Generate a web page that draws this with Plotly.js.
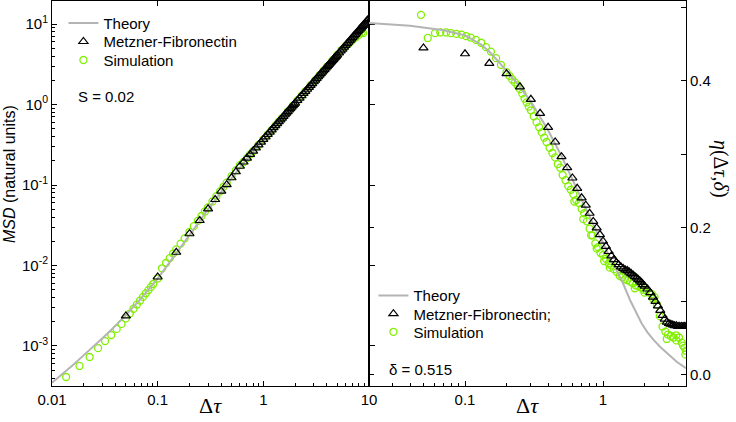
<!DOCTYPE html>
<html>
<head>
<meta charset="utf-8">
<script src="https://cdn.plot.ly/plotly-3.0.1.min.js"></script>
<style>html,body{margin:0;padding:0;background:#fff;}#chart{width:736px;height:422px;}</style>
</head>
<body>
<div id="chart"></div>
<script>
// ---------- Data ----------
// Metzner-Fibronectin time lags
const dtMF = [0.05,0.1,0.15,0.2,0.25,0.3,0.35,0.4,0.45,0.5,0.55,0.6,0.65,0.7,0.75,0.8,0.85,0.9,0.95,1.0,
  1.05,1.1,1.15,1.2,1.25,1.3,1.35,1.4,1.45,1.5,1.55,1.6,1.65,1.7,1.75,1.8,1.85,1.9,1.95,2.0,
  2.1,2.2,2.3,2.4,2.5,2.6,2.7,2.8,2.9,3.0,3.1,3.2,3.3,3.4,3.5,3.6,3.7,3.8,3.9,4.0,4.1,4.2,
  4.3,4.4,4.5,4.6,4.7,4.8,4.9,5.0,5.2,5.4,5.6,5.8,6.0,6.2,6.4,6.6,6.8,7.0,7.2,7.4,7.6,7.8,8.0,
  8.2,8.4,8.6,8.8,9.0,9.2,9.4,9.6,9.8,10.0];
const msdMF = [0.00236,0.0072,0.0146,0.0248,0.0362,0.0506,0.066,0.0838,0.101,0.123,0.146,0.171,0.193,0.216,0.240,0.264,0.289,0.315,0.341,0.369,
  0.397,0.425,0.455,0.485,0.515,0.547,0.578,0.611,0.644,0.677,0.712,0.746,0.782,0.817,0.854,0.890,0.928,0.966,1.004,1.043,
  1.122,1.203,1.286,1.371,1.457,1.546,1.636,1.727,1.821,1.916,2.012,2.111,2.210,2.311,2.414,2.518,2.624,2.731,2.840,2.950,3.061,3.174,
  3.288,3.403,3.520,3.638,3.757,3.877,3.999,4.122,4.372,4.627,4.886,5.150,5.419,5.692,5.970,6.251,6.538,6.828,7.123,7.422,7.725,8.031,8.343,
  8.658,8.976,9.299,9.625,9.955,10.29,10.63,10.97,11.31,11.66];
const etaMF = [0.445,0.437,0.424,0.410,0.392,0.375,0.356,0.337,0.317,0.297,0.282,0.268,0.254,0.241,0.231,0.220,0.209,0.200,0.191,0.182,
  0.175,0.168,0.162,0.157,0.153,0.150,0.147,0.145,0.143,0.142,0.140,0.138,0.136,0.134,0.132,0.130,0.128,0.126,0.123,0.121,
  0.117,0.112,0.106,0.100,0.094,0.088,0.081,0.076,0.072,0.070,0.069,0.068,0.067,0.067,0.066,0.066,0.066,0.066,0.066,0.066,0.066,0.066];

// Simulation, MSD panel
const dtSimL = [0.0136,0.0182,0.0227,0.0273,0.0318,0.0364,0.0409,0.0455,0.05,0.0545,0.0591,0.0636,0.0682,0.0727,0.0773,0.0818,0.0864,0.0909,
  0.1,0.11,0.12,0.13,0.14,0.15,0.165,0.18,0.2,0.22,0.24,0.26,0.28,0.3,0.33,0.36,0.39,0.42,0.45,0.5,0.55,0.6,
  0.65,0.7,0.75,0.8,0.9,1.0,1.1,1.2,1.3,1.4,1.5,1.7,1.9,2.1,2.3,2.5,2.8,3.1,3.4,3.7,4.0,4.5,5.0,5.5,6.0,6.5,7.0,7.5,8.0,8.5,8.8];
const msdSim = [0.000412,0.000565,0.00073,0.00094,0.00115,0.00137,0.00163,0.00188,0.0022,0.00253,0.0029,0.00327,0.00367,0.00408,0.00451,0.00495,0.00542,0.00589,
  0.00689,0.00923,0.01074,0.01234,0.01403,0.01583,0.01867,0.02174,0.02611,0.03082,0.03586,0.04122,0.0469,0.05284,0.06242,0.0726,0.08346,0.09497,0.107,0.1286,0.1518,0.1766,
  0.1932,0.2159,0.2395,0.2638,0.3148,0.3687,0.4254,0.4847,0.5465,0.6108,0.6773,0.8172,0.9656,1.122,1.286,1.457,1.727,2.012,2.311,2.624,2.95,3.52,4.122,4.756,5.256,5.805,6.35,6.816,7.342,7.766,7.70];

// Simulation, eta panel
const dtSimR = [0.048,0.0537,0.0606,0.0662,0.073,0.079,0.0867,0.0945,0.102,0.11,0.12,0.131,0.142,0.154,0.168,0.182,
  0.2,0.21,0.22,0.23,0.24,0.25,0.26,0.27,0.28,0.29,0.3,0.315,0.33,0.345,0.36,0.375,0.39,0.41,0.43,0.45,0.47,0.49,0.51,0.535,0.56,0.585,
  0.61,0.64,0.67,0.7,0.73,0.765,0.8,0.84,0.88,0.92,0.96,1.0,1.05,1.1,1.15,1.2,1.26,1.32,1.38,1.44,1.5,1.57,1.64,1.72,1.8,1.88,1.97,
  2.06,2.16,2.26,2.36,2.47,2.58,2.7,2.83,2.96,3.1,3.24,3.39,3.55,3.72,3.9,4.0,
  0.62,0.72,0.82,0.9,1.02,1.12,1.7,2.0,2.3,2.9,3.4,3.8,3.95];
const etaSim = [0.490,0.4585,0.465,0.466,0.466,0.465,0.464,0.463,0.461,0.459,0.456,0.452,0.446,0.440,0.431,0.422,
  0.412,0.407,0.402,0.398,0.394,0.389,0.383,0.376,0.371,0.365,0.360,0.352,0.344,0.337,0.330,0.323,0.317,0.309,0.302,0.296,0.287,0.282,0.272,0.265,0.257,0.252,
  0.246,0.238,0.234,0.226,0.220,0.209,0.199,0.190,0.179,0.174,0.166,0.163,0.158,0.152,0.149,0.144,0.140,0.135,0.133,0.130,0.129,0.127,0.125,0.122,0.121,0.119,0.116,
  0.115,0.112,0.110,0.106,0.095,0.080,0.066,0.059,0.055,0.053,0.051,0.054,0.051,0.044,0.037,0.033,
  0.236,0.212,0.190,0.172,0.155,0.146,0.118,0.112,0.104,0.049,0.047,0.040,0.028];

// Theory curves
const dtThL = [0.01,0.013,0.016,0.02,0.025,0.03,0.04,0.05,0.07,0.1,0.15,0.2,0.3,0.5,0.7,1,1.5,2,3,5,7,10];
const msdTh = [0.00035,0.000466,0.00059,0.00077,0.001,0.00125,0.00179,0.00242,0.00394,0.00686,0.0142,0.0242,0.05,0.121,0.212,0.362,0.665,1.025,1.89,4.08,6.8,11.8];
const dtThR = [0.02,0.04,0.07,0.1,0.13,0.15,0.2,0.25,0.3,0.4,0.5,0.6,0.7,0.8,0.9,1.0,1.124,1.25,1.366,1.569,1.75,1.907,2.1,2.316,2.6,2.9,3.42,3.99];
const etaTh = [0.479,0.475,0.469,0.462,0.450,0.440,0.414,0.392,0.372,0.333,0.298,0.266,0.238,0.215,0.195,0.180,0.159,0.143,0.129,0.102,0.084,0.070,0.058,0.048,0.038,0.030,0.018,0.0091];

// Tick labels
const xMajor = [0.01,0.1,1,10];
const xMajorText = ['0.01','0.1','1','10'];
const xMinor = [0.02,0.03,0.04,0.05,0.06,0.07,0.08,0.09,0.2,0.3,0.4,0.5,0.6,0.7,0.8,0.9,2,3,4,5,6,7,8,9];
const yMajorL = [0.001,0.01,0.1,1,10];
const yMajorLText = ['10<sup>-3</sup>','10<sup>-2</sup>','10<sup>-1</sup>','10<sup>0</sup>','10<sup>1</sup>'];
const yMinorL = [0.0004,0.0005,0.0006,0.0007,0.0008,0.0009,0.002,0.003,0.004,0.005,0.006,0.007,0.008,0.009,
  0.02,0.03,0.04,0.05,0.06,0.07,0.08,0.09,0.2,0.3,0.4,0.5,0.6,0.7,0.8,0.9,2,3,4,5,6,7,8,9];
const yMajorR = [0,0.2,0.4];
const yMajorRText = ['0.0','0.2','0.4'];
const yMinorR = [0.1,0.3,0.5];

// ---------- Styles ----------
const GREEN = '#80f000';
const GRAY = '#b4b4b4';
const FONT = 'Liberation Sans, Arial, sans-serif';
const SERIF = 'Liberation Serif, Times New Roman, serif';

const triMarker = {symbol:'triangle-up-open', size:8, color:'#000', line:{width:1.2, color:'#000'}};
const circMarker = {symbol:'circle-open', size:7, color:GREEN, line:{width:1.3, color:GREEN}};

const traces = [
  {x: dtSimL, y: msdSim, xaxis:'x', yaxis:'y', mode:'markers', name:'Simulation', legend:'legend3', marker:circMarker},
  {x: dtThL, y: msdTh, xaxis:'x', yaxis:'y', mode:'lines', name:'Theory', legend:'legend', line:{color:GRAY, width:2}},
  {x: dtMF, y: msdMF, xaxis:'x', yaxis:'y', mode:'markers', name:'Metzner-Fibronectin', legend:'legend2', marker:triMarker},

  {x: dtSimR, y: etaSim, xaxis:'x2', yaxis:'y2', mode:'markers', name:'Simulation', legend:'legend6', marker:circMarker},
  {x: dtThR, y: etaTh, xaxis:'x2', yaxis:'y2', mode:'lines', name:'Theory', legend:'legend4', line:{color:GRAY, width:2}},
  {x: dtMF.slice(0, etaMF.length), y: etaMF, xaxis:'x2', yaxis:'y2', mode:'markers', name:'Metzner-Fibronectin;', legend:'legend5', marker:triMarker},

  // empty helper traces so the tick-only overlay axes are drawn
  {x: [], y: [], xaxis:'x3', yaxis:'y3', showlegend:false, hoverinfo:'skip'},
  {x: [], y: [], xaxis:'x4', yaxis:'y4', showlegend:false, hoverinfo:'skip'}
];

const tickFont = {family: FONT, size: 15, color: '#000'};
function leg(x, y) {
  return {x:x, y:y, xanchor:'left', yanchor:'top', bgcolor:'rgba(0,0,0,0)', borderwidth:0,
    font:{family:FONT, size:15, color:'#000'}, itemwidth:30};
}

const layout = {
  width: 736, height: 422,
  margin: {l: 52, r: 50, t: 1, b: 36},
  paper_bgcolor: '#fff', plot_bgcolor: 'rgba(0,0,0,0)',
  font: {family: FONT, size: 15, color: '#000'},
  xaxis: {domain:[0,0.5], anchor:'y', type:'log', range:[-2, 1], showgrid:false, zeroline:false,
    showline:true, linecolor:'#000', linewidth:1, mirror:true,
    tickmode:'array', tickvals:xMajor, ticktext:xMajorText, ticks:'inside', ticklen:5, tickcolor:'#000', tickfont:tickFont,
    minor:{tickmode:'array', tickvals:xMinor, ticks:'inside', ticklen:3, tickcolor:'#000', showgrid:false}},
  yaxis: {domain:[0,1], anchor:'x', type:'log', range:[-3.497, 1.2857], showgrid:false, zeroline:false,
    showline:true, linecolor:'#000', linewidth:1, mirror:true,
    tickmode:'array', tickvals:yMajorL, ticktext:yMajorLText, ticks:'inside', ticklen:5, tickcolor:'#000', tickfont:tickFont,
    minor:{tickmode:'array', tickvals:yMinorL, ticks:'inside', ticklen:3, tickcolor:'#000', showgrid:false}},
  xaxis2: {domain:[0.5,1], anchor:'y2', type:'log', range:[-1.6957, 0.6014], showgrid:false, zeroline:false,
    showline:true, linecolor:'#000', linewidth:1, mirror:true,
    tickmode:'array', tickvals:[0.1,1], ticktext:['0.1','1'], ticks:'inside', ticklen:5, tickcolor:'#000', tickfont:tickFont,
    minor:{tickmode:'array', tickvals:xMinor, ticks:'inside', ticklen:3, tickcolor:'#000', showgrid:false}},
  yaxis2: {domain:[0,1], anchor:'x2', side:'right', range:[-0.015, 0.5088], showgrid:false, zeroline:false,
    showline:true, linecolor:'#000', linewidth:1, mirror:true,
    tickmode:'array', tickvals:yMajorR, ticktext:yMajorRText, ticks:'inside', ticklen:5, tickcolor:'#000', tickfont:tickFont,
    minor:{tickmode:'array', tickvals:yMinorR, ticks:'inside', ticklen:5, tickcolor:'#000', showgrid:false}},
  // top ticks + inner-border ticks
  xaxis3: {domain:[0,0.5], overlaying:'x', anchor:'y', side:'top', type:'log', range:[-2,1], showgrid:false, zeroline:false,
    showline:false, tickmode:'array', tickvals:[0.1,1], ticks:'inside', ticklen:5, tickcolor:'#000', showticklabels:false},
  yaxis3: {domain:[0,1], overlaying:'y', anchor:'x', side:'right', type:'log', range:[-3.497, 1.2857], showgrid:false, zeroline:false,
    showline:false, tickmode:'array', tickvals:yMajorL, ticks:'outside', ticklen:5, tickcolor:'#000', showticklabels:false},
  xaxis4: {domain:[0.5,1], overlaying:'x2', anchor:'y2', side:'top', type:'log', range:[-1.6957, 0.6014], showgrid:false, zeroline:false,
    showline:false, tickmode:'array', tickvals:[0.1,1], ticks:'inside', ticklen:5, tickcolor:'#000', showticklabels:false},
  yaxis4: {domain:[0,1], overlaying:'y2', anchor:'x2', side:'left', range:[-0.015, 0.5088], showgrid:false, zeroline:false,
    showline:false, tickmode:'array', tickvals:yMajorR, ticks:'inside', ticklen:5, tickcolor:'#000', showticklabels:false},
  // one legend box per entry, placed like the reference
  legend:  leg(0.018, 0.985),
  legend2: leg(0.018, 0.937),
  legend3: leg(0.018, 0.889),
  legend4: leg(0.507, 0.277),
  legend5: leg(0.507, 0.230),
  legend6: leg(0.507, 0.183),
  showlegend: true,
  annotations: [
    {xref:'paper', yref:'paper', x:0.038, y:0.753, xanchor:'left', yanchor:'middle', showarrow:false,
     text:'S = 0.02', font:{family:FONT, size:15, color:'#000'}},
    {xref:'paper', yref:'paper', x:0.528, y:0.042, xanchor:'left', yanchor:'middle', showarrow:false,
     text:'δ = 0.515', font:{family:FONT, size:15, color:'#000'}},
    {xref:'paper', yref:'paper', x:0.25, y:-0.088, xanchor:'center', yanchor:'bottom', showarrow:false,
     text:'Δ<i>τ</i>', font:{family:SERIF, size:22, color:'#000'}},
    {xref:'paper', yref:'paper', x:0.75, y:-0.088, xanchor:'center', yanchor:'bottom', showarrow:false,
     text:'Δ<i>τ</i>', font:{family:SERIF, size:22, color:'#000'}},
    {xref:'paper', yref:'paper', x:-0.066, y:0.551, xanchor:'center', yanchor:'middle', showarrow:false, textangle:-90,
     text:'<i>MSD</i> (natural units)', font:{family:FONT, size:16, color:'#000'}},
    {xref:'paper', yref:'paper', x:1.0553, y:0.5636, xanchor:'center', yanchor:'middle', showarrow:false, textangle:90,
     text:'<i>η</i>(Δ<i>τ</i>,<i>δ</i>)', font:{family:SERIF, size:20, color:'#000'}}
  ]
};

Plotly.newPlot('chart', traces, layout, {staticPlot:true, displayModeBar:false});
</script>
</body>
</html>
